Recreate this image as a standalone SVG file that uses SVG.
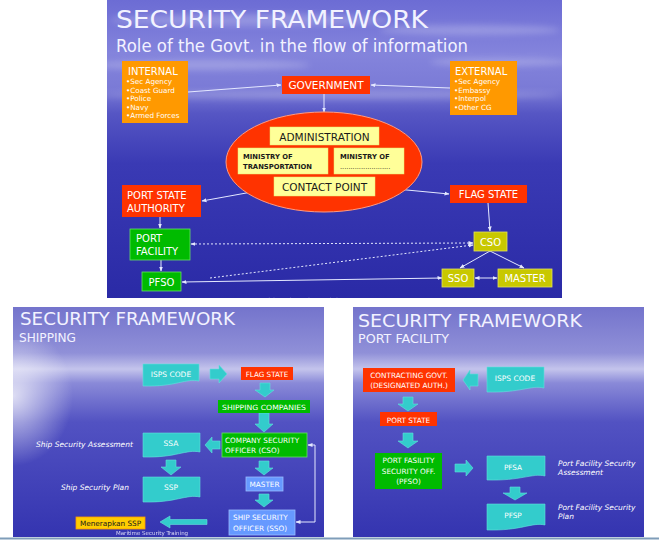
<svg xmlns="http://www.w3.org/2000/svg" width="659" height="541" viewBox="0 0 659 541">
<defs>
<linearGradient id="bgTop" x1="0" y1="0" x2="0" y2="1">
<stop offset="0" stop-color="#6c6cd4"/>
<stop offset="0.18" stop-color="#8484dc"/>
<stop offset="0.3" stop-color="#7a7ad6"/>
<stop offset="0.38" stop-color="#5656c4"/>
<stop offset="0.55" stop-color="#3a3ab4"/>
<stop offset="1" stop-color="#2a2aa6"/>
</linearGradient>
<linearGradient id="bgBot" x1="0" y1="0" x2="0" y2="1">
<stop offset="0" stop-color="#7474cc"/>
<stop offset="0.2" stop-color="#9090d8"/>
<stop offset="0.27" stop-color="#c4c4ec"/>
<stop offset="0.33" stop-color="#8a8ad8"/>
<stop offset="0.5" stop-color="#5252c2"/>
<stop offset="1" stop-color="#3434b0"/>
</linearGradient>
<radialGradient id="haze" cx="0" cy="0.4" r="0.5">
<stop offset="0" stop-color="#ffffff" stop-opacity="0.75"/>
<stop offset="1" stop-color="#ffffff" stop-opacity="0"/>
</radialGradient>
<filter id="blur" x="-20%" y="-50%" width="140%" height="200%"><feGaussianBlur stdDeviation="3"/></filter>
<clipPath id="clipTop"><rect x="107" y="0" width="455" height="298"/></clipPath>
<marker id="ah" viewBox="0 0 10 10" refX="9" refY="5" markerWidth="5" markerHeight="5" orient="auto-start-reverse" markerUnits="userSpaceOnUse">
<path d="M0,1 L10,5 L0,9 Z" fill="#e4e8ff"/>
</marker>
<style>
.ttl{font-family:"DejaVu Sans","Liberation Sans",sans-serif;fill:#f2f2ff}
.bx{font-family:"DejaVu Sans","Liberation Sans",sans-serif;fill:#ffffff}
.dk{font-family:"DejaVu Sans","Liberation Sans",sans-serif;fill:#1a1a1a}
.it{font-family:"DejaVu Sans","Liberation Sans",sans-serif;fill:#ffffff;font-style:italic}
.red{fill:#ff3300}
.org{fill:#ff9900}
.yel{fill:#ffff99;stroke:#e8e870;stroke-width:0.5}
.grn{fill:#00bb00;stroke:#66dd66;stroke-width:0.8}
.olv{fill:#c8c800;stroke:#e0e060;stroke-width:0.8}
.lb{fill:#6699ff;stroke:#99bbff;stroke-width:0.8}
.teal{fill:#33cccc;stroke:#66dddd;stroke-width:0.6}
.ln{stroke:#e4e8ff;stroke-width:1;fill:none}
.dot{stroke:#e4e8ff;stroke-width:1;fill:none;stroke-dasharray:2,2}
</style>
</defs>

<!-- backgrounds -->
<rect x="0" y="0" width="659" height="541" fill="#ffffff"/>
<g id="slide-top-bg">
<rect x="107" y="0" width="455" height="298" fill="url(#bgTop)"/>
<g clip-path="url(#clipTop)" filter="url(#blur)" fill="#ffffff" opacity="0.22">
<ellipse cx="250" cy="20" rx="140" ry="6"/>
<ellipse cx="470" cy="30" rx="90" ry="5"/>
<ellipse cx="200" cy="65" rx="110" ry="5"/>
<ellipse cx="500" cy="62" rx="70" ry="4"/>
<ellipse cx="330" cy="95" rx="230" ry="4"/>
</g>
</g>
<g id="slide-left-bg">
<rect x="13" y="307" width="311" height="230" fill="url(#bgBot)"/>
<rect x="13" y="340" width="120" height="140" fill="url(#haze)"/>
</g>
<g id="slide-right-bg">
<rect x="353" y="307" width="291" height="230" fill="url(#bgBot)"/>
</g>
<line x1="0" y1="538.5" x2="659" y2="538.5" stroke="#7f9db9" stroke-width="2"/>

<!-- TOP SLIDE titles -->
<text class="ttl" x="116" y="28" font-size="25" textLength="312" lengthAdjust="spacingAndGlyphs">SECURITY FRAMEWORK</text>
<text class="ttl" x="116" y="52" font-size="18" textLength="352" lengthAdjust="spacingAndGlyphs">Role of the Govt. in the flow of information</text>
<text class="ttl" x="255" y="303" font-size="7" opacity="0.6" clip-path="url(#clipTop)">Maritime Security Training</text>

<!-- TOP connectors -->
<g id="connectors-top">
<line class="ln" x1="188" y1="92" x2="281" y2="85" marker-end="url(#ah)"/>
<line class="ln" x1="450" y1="88" x2="371" y2="85" marker-end="url(#ah)"/>
<line class="ln" x1="324" y1="94" x2="324" y2="112" marker-end="url(#ah)"/>
<line class="ln" x1="274" y1="188" x2="202" y2="201" marker-end="url(#ah)"/>
<line class="ln" x1="375" y1="187" x2="449" y2="194" marker-end="url(#ah)"/>
<line class="ln" x1="160" y1="217" x2="160" y2="228" marker-end="url(#ah)"/>
<line class="ln" x1="161" y1="260" x2="161" y2="271" marker-end="url(#ah)"/>
<line class="ln" x1="488" y1="203" x2="490" y2="231" marker-end="url(#ah)"/>
<line class="dot" x1="191" y1="244" x2="473" y2="243" marker-start="url(#ah)" marker-end="url(#ah)"/>
<line class="dot" x1="210" y1="278" x2="473" y2="245" marker-end="url(#ah)"/>
<line class="ln" x1="182" y1="282" x2="442" y2="278" marker-start="url(#ah)" marker-end="url(#ah)"/>
<line class="ln" x1="490" y1="251" x2="460" y2="268" marker-end="url(#ah)"/>
<line class="ln" x1="490" y1="251" x2="524" y2="268" marker-end="url(#ah)"/>
<line class="ln" x1="475" y1="278" x2="497" y2="278" marker-start="url(#ah)" marker-end="url(#ah)"/>
</g>

<!-- TOP nodes -->
<g id="internal">
<rect class="org" x="122" y="61" width="66" height="62"/>
<text class="bx" x="128" y="75" font-size="10" fill="#fff8e0">INTERNAL</text>
<text class="bx" x="126" y="84" font-size="7.2">•Sec Agency</text>
<text class="bx" x="126" y="92.5" font-size="7.2">•Coast Guard</text>
<text class="bx" x="126" y="101" font-size="7.2">•Police</text>
<text class="bx" x="126" y="109.5" font-size="7.2">•Navy</text>
<text class="bx" x="126" y="118" font-size="7.2">•Armed Forces</text>
</g>
<g id="external">
<rect class="org" x="450" y="61" width="67" height="54"/>
<text class="bx" x="455" y="75" font-size="10">EXTERNAL</text>
<text class="bx" x="454" y="84" font-size="7.2">•Sec Agency</text>
<text class="bx" x="454" y="92.5" font-size="7.2">•Embassy</text>
<text class="bx" x="454" y="101" font-size="7.2">•Interpol</text>
<text class="bx" x="454" y="109.5" font-size="7.2">•Other CG</text>
</g>
<g id="government">
<rect class="red" x="282" y="76" width="88" height="18"/>
<text class="bx" x="326" y="89" font-size="10.5" text-anchor="middle">GOVERNMENT</text>
</g>
<g id="ellipse">
<ellipse cx="324" cy="162" rx="98" ry="50" fill="#ff3300" stroke="#ff9a80" stroke-width="1"/>
</g>
<g id="administration">
<rect class="yel" x="270" y="127" width="109" height="18"/>
<text class="dk" x="324.5" y="140.5" font-size="10.5" text-anchor="middle">ADMINISTRATION</text>
</g>
<g id="ministry-transport">
<rect class="yel" x="238" y="148" width="90" height="26"/>
<text class="dk" x="243" y="159" font-size="6.8" font-weight="bold" fill="#333">MINISTRY OF</text>
<text class="dk" x="243" y="169" font-size="6.8" font-weight="bold" fill="#333">TRANSPORTATION</text>
</g>
<g id="ministry-other">
<rect class="yel" x="334" y="148" width="70" height="26"/>
<text class="dk" x="340" y="159" font-size="6.8" font-weight="bold" fill="#333">MINISTRY OF</text>
<text class="dk" x="340" y="169" font-size="6.6" fill="#333">........................</text>
</g>
<g id="contact-point">
<rect class="yel" x="274" y="177" width="101" height="19"/>
<text class="dk" x="324.5" y="191" font-size="10.5" text-anchor="middle">CONTACT POINT</text>
</g>
<g id="port-state-authority">
<rect class="red" x="122" y="185" width="79" height="32"/>
<text class="bx" x="127" y="199" font-size="10">PORT STATE</text>
<text class="bx" x="127" y="212" font-size="10">AUTHORITY</text>
</g>
<g id="port-facility">
<rect class="grn" x="130" y="229" width="60" height="31"/>
<text class="bx" x="136" y="242" font-size="10">PORT</text>
<text class="bx" x="136" y="255" font-size="10">FACILITY</text>
</g>
<g id="pfso">
<rect class="grn" x="142" y="272" width="39" height="19"/>
<text class="bx" x="161.5" y="286" font-size="10" text-anchor="middle">PFSO</text>
</g>
<g id="flag-state">
<rect class="red" x="450" y="185" width="77" height="18"/>
<text class="bx" x="488.5" y="198" font-size="10" text-anchor="middle">FLAG STATE</text>
</g>
<g id="cso">
<rect class="olv" x="474" y="232" width="33" height="19"/>
<text class="bx" x="490.5" y="246" font-size="10" text-anchor="middle">CSO</text>
</g>
<g id="sso">
<rect class="olv" x="442" y="269" width="32" height="18"/>
<text class="bx" x="458" y="282" font-size="10" text-anchor="middle">SSO</text>
</g>
<g id="master">
<rect class="olv" x="498" y="269" width="54" height="18"/>
<text class="bx" x="525" y="282" font-size="10" text-anchor="middle">MASTER</text>
</g>

<!-- BOTTOM LEFT: SHIPPING -->
<text class="ttl" x="20" y="325" font-size="18" textLength="215" lengthAdjust="spacingAndGlyphs">SECURITY FRAMEWORK</text>
<text class="ttl" x="19" y="342" font-size="12" textLength="57" lengthAdjust="spacingAndGlyphs">SHIPPING</text>
<text class="ttl" x="116" y="535" font-size="5.5" opacity="0.85">Maritime Security Training</text>
<text class="it" x="36" y="447" font-size="7.5">Ship Security Assessment</text>
<text class="it" x="61" y="490" font-size="7.5">Ship Security Plan</text>

<g id="connectors-left">
<polygon class="teal" points="210,369 219,369 219,365 227,374 219,383 219,379 210,379"/>
<polygon class="teal" points="260,383 270,383 270,390 274,390 265,397 255,390 260,390"/>
<polygon class="teal" points="259,413 269,413 269,424 273,424 264,432 255,424 259,424"/>
<polygon class="teal" points="220,441 212,441 212,437 205,445 212,453 212,449 220,449"/>
<polygon class="teal" points="166,460 176,460 176,467 181,467 171,475 161,467 166,467"/>
<polygon class="teal" points="259,461 269,461 269,468 273,468 264,475 255,468 259,468"/>
<polygon class="teal" points="259,494 269,494 269,500 273,500 264,507 255,500 259,500"/>
<polygon class="teal" points="207,519.5 170,519.5 170,516 160,522 170,528 170,524.5 207,524.5"/>
<polyline class="ln" points="315,445 315,522 296,522" marker-end="url(#ah)"/>
<line class="ln" x1="315" y1="445" x2="308" y2="445" marker-end="url(#ah)"/>
</g>

<g id="isps-code-l">
<path class="teal" d="M143,364 H199 V381 C186,378 176,387 143,386 Z"/>
<text class="bx" x="171" y="377" font-size="7.5" text-anchor="middle">ISPS CODE</text>
</g>
<g id="flag-state-l">
<rect class="red" x="241" y="367" width="52" height="13"/>
<text class="bx" x="267" y="376.5" font-size="7.2" text-anchor="middle">FLAG STATE</text>
</g>
<g id="shipping-companies">
<rect x="218" y="400" width="92" height="13" fill="#00bb00"/>
<text class="bx" x="264" y="409.5" font-size="7.2" text-anchor="middle" textLength="84" lengthAdjust="spacingAndGlyphs">SHIPPING COMPANIES</text>
</g>
<g id="company-cso">
<rect class="grn" x="222" y="433" width="85" height="24" stroke="#ffffff"/>
<text class="bx" x="225" y="443" font-size="7.3">COMPANY SECURITY</text>
<text class="bx" x="225" y="453" font-size="7.3">OFFICER (CSO)</text>
</g>
<g id="ssa">
<path class="teal" d="M143,433 H200 V452 C186,449 176,458 143,457 Z"/>
<text class="bx" x="171" y="446" font-size="7.5" text-anchor="middle">SSA</text>
</g>
<g id="ssp">
<path class="teal" d="M143,477 H200 V497 C186,494 176,503 143,502 Z"/>
<text class="bx" x="171" y="490" font-size="7.5" text-anchor="middle">SSP</text>
</g>
<g id="master-l">
<rect class="lb" x="246" y="477" width="37" height="14"/>
<text class="bx" x="264.5" y="487" font-size="7.3" text-anchor="middle">MASTER</text>
</g>
<g id="ship-sso">
<rect class="lb" x="229" y="510" width="66" height="25"/>
<text class="bx" x="233" y="520" font-size="7.3">SHIP SECURITY</text>
<text class="bx" x="233" y="531" font-size="7.3">OFFICER (SSO)</text>
</g>
<g id="menerapkan">
<rect x="76" y="517" width="69" height="12" fill="#ffcc00" stroke="#ff9900" stroke-width="0.8"/>
<text class="dk" x="110.5" y="526" font-size="7.3" text-anchor="middle">Menerapkan SSP</text>
</g>

<!-- BOTTOM RIGHT: PORT FACILITY -->
<text class="ttl" x="358" y="327" font-size="18" textLength="224" lengthAdjust="spacingAndGlyphs">SECURITY FRAMEWORK</text>
<text class="ttl" x="358" y="343" font-size="12" textLength="91" lengthAdjust="spacingAndGlyphs">PORT FACILITY</text>
<text class="it" x="558" y="466" font-size="7.5">Port Facility Security</text>
<text class="it" x="558" y="475" font-size="7.5">Assessment</text>
<text class="it" x="558" y="510" font-size="7.5">Port Facility Security</text>
<text class="it" x="558" y="519" font-size="7.5">Plan</text>

<g id="connectors-right">
<polygon class="teal" points="478,374 470,374 470,370 463,380 470,390 470,386 478,386"/>
<polygon class="teal" points="403,397 413,397 413,404 418,404 408,411 398,404 403,404"/>
<polygon class="teal" points="403,433 413,433 413,441 418,441 408,448 398,441 403,441"/>
<polygon class="teal" points="455,464 466,464 466,460 473,468 466,476 466,472 455,472"/>
<polygon class="teal" points="510,487 520,487 520,493 527,493 515,500 503,493 510,493"/>
</g>

<g id="contracting-govt">
<rect class="red" x="363" y="368" width="92" height="24"/>
<text class="bx" x="409" y="378" font-size="7.3" text-anchor="middle">CONTRACTING GOVT.</text>
<text class="bx" x="409" y="388" font-size="7.3" text-anchor="middle">(DESIGNATED AUTH.)</text>
</g>
<g id="isps-code-r">
<path class="teal" d="M487,367 H544 V388 C531,385 520,393 487,392 Z"/>
<text class="bx" x="515" y="381" font-size="7.5" text-anchor="middle">ISPS CODE</text>
</g>
<g id="port-state-r">
<rect class="red" x="380" y="412" width="57" height="14"/>
<text class="bx" x="408.5" y="422.5" font-size="7.3" text-anchor="middle">PORT STATE</text>
</g>
<g id="pfso-r">
<rect x="375" y="453" width="67" height="36" fill="#00bb00"/>
<text class="bx" x="408.5" y="463" font-size="7.3" text-anchor="middle">PORT FASILITY</text>
<text class="bx" x="408.5" y="474" font-size="7.3" text-anchor="middle">SECURITY OFF.</text>
<text class="bx" x="408.5" y="484" font-size="7.3" text-anchor="middle">(PFSO)</text>
</g>
<g id="pfsa">
<path class="teal" d="M487,456 H545 V476 C532,473 521,481 487,480 Z"/>
<text class="bx" x="513" y="470" font-size="7.3" text-anchor="middle">PFSA</text>
</g>
<g id="pfsp">
<path class="teal" d="M487,504 H545 V525 C532,522 521,531 487,530 Z"/>
<text class="bx" x="513" y="518" font-size="7.3" text-anchor="middle">PFSP</text>
</g>
</svg>
